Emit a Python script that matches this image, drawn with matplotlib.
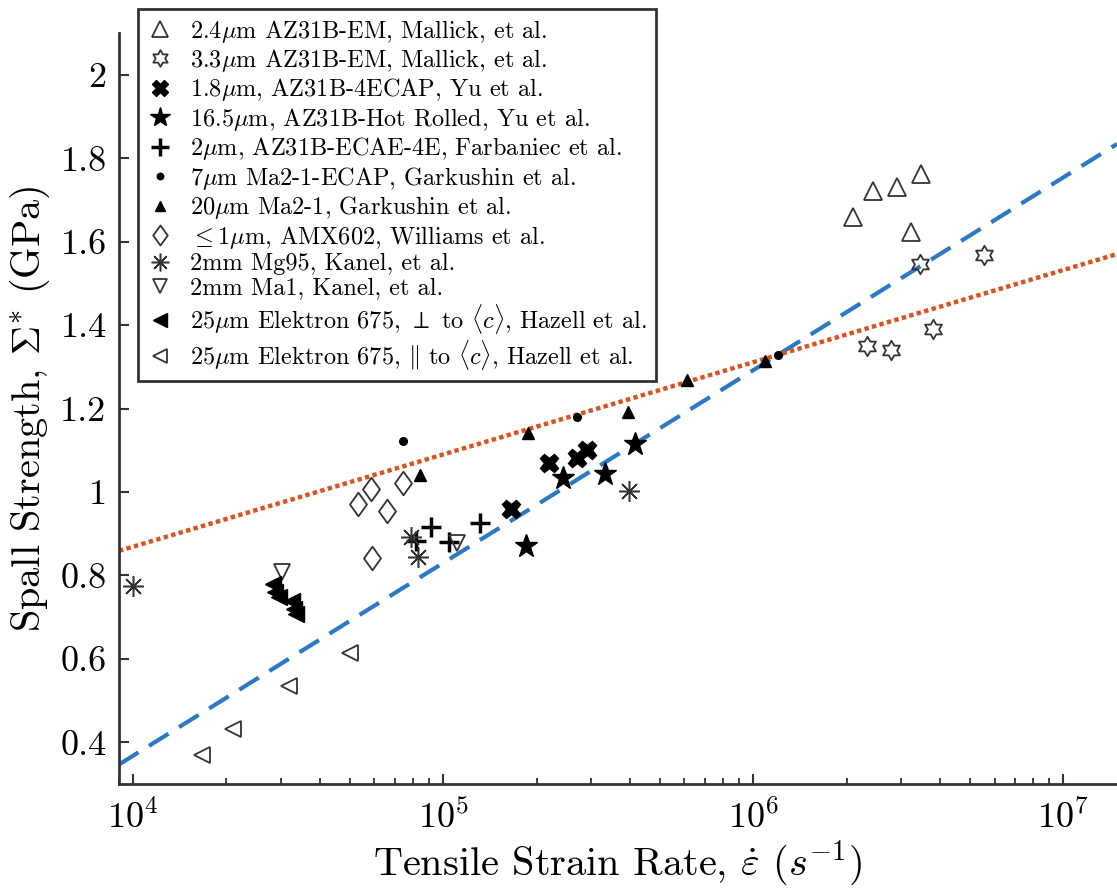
import matplotlib
matplotlib.use('Agg')
import matplotlib.pyplot as plt
import numpy as np
from matplotlib.path import Path
from matplotlib.ticker import FuncFormatter, LogLocator, NullFormatter

plt.rcParams.update({
    'font.family': 'serif',
    'font.serif': ['cmr10'],
    'mathtext.fontset': 'cm',
    'axes.formatter.use_mathtext': True,
    'axes.unicode_minus': False,
})

# ---- data (strain rate 1/s, spall strength GPa) ----
mallick24_x = [2.1e6, 2.44e6, 2.9e6, 3.47e6, 3.23e6]
mallick24_y = [1.660, 1.721, 1.731, 1.761, 1.622]
mallick33_x = [3.46e6, 5.56e6, 3.8e6, 2.33e6, 2.79e6]
mallick33_y = [1.547, 1.569, 1.391, 1.350, 1.341]
yu_ecap_x = [2.2e5, 2.7e5, 2.92e5, 1.66e5]
yu_ecap_y = [1.070, 1.082, 1.101, 0.959]
yu_hr_x = [2.44e5, 3.33e5, 1.85e5, 4.16e5]
yu_hr_y = [1.034, 1.043, 0.870, 1.115]
farb_x = [9.1e4, 1.31e5, 8.2e4, 1.045e5]
farb_y = [0.916, 0.926, 0.882, 0.880]
gark_ecap_x = [7.4e4, 2.7e5, 1.2e6]
gark_ecap_y = [1.122, 1.180, 1.329]
gark_x = [8.4e4, 1.88e5, 3.95e5, 6.1e5, 1.09e6]
gark_y = [1.041, 1.142, 1.192, 1.269, 1.313]
will_x = [5.3e4, 5.86e4, 6.6e4, 7.4e4, 5.9e4]
will_y = [0.971, 1.007, 0.955, 1.022, 0.842]
kanel_mg_x = [1.0e4, 7.9e4, 8.3e4, 3.98e5]
kanel_mg_y = [0.775, 0.892, 0.844, 1.002]
kanel_ma_x = [3.02e4, 1.11e5]
kanel_ma_y = [0.808, 0.878]
haz_perp_x = [2.83e4, 2.87e4, 2.96e4, 3.26e4, 3.31e4, 3.36e4]
haz_perp_y = [0.779, 0.760, 0.748, 0.738, 0.719, 0.707]
haz_par_x = [5.0e4, 3.18e4, 2.1e4, 1.67e4]
haz_par_y = [0.615, 0.534, 0.431, 0.369]

# fit lines: strength = a + b*log10(rate)
fit_blue = (-1.480, 0.462)
fit_orange = (-0.015, 0.221)

BLUE = '#2b78c5'
ORANGE = '#d9531e'
GREY = '#333333'

hexagram = Path.unit_regular_star(6, 0.577)
diamond = Path([(0, 1), (0.72, 0), (0, -1), (-0.72, 0), (0, 1)],
               [Path.MOVETO, Path.LINETO, Path.LINETO, Path.LINETO, Path.CLOSEPOLY])

fig = plt.figure(figsize=(11.17, 8.93), dpi=100)
ax = fig.add_axes([0.1065, 0.122, 0.8935, 0.841])
ax.set_xscale('log')
xlim = (9.0e3, 1.49e7)

xs = np.logspace(np.log10(xlim[0]), np.log10(xlim[1]), 50)
ax.plot(xs, fit_blue[0] + fit_blue[1] * np.log10(xs), color=BLUE, lw=3,
        ls=(0, (5.5, 3.0)), zorder=1)
ax.plot(xs, fit_orange[0] + fit_orange[1] * np.log10(xs), color=ORANGE, lw=3.2,
        ls=(0, (1.0, 0.75)), zorder=1)

open_kw = dict(ls='none', mfc='none', mec=GREY, mew=1.3)
ax.plot(mallick24_x, mallick24_y, marker='^', ms=13, label=r'2.4$\mu$m AZ31B-EM, Mallick, et al.', **open_kw)
ax.plot(mallick33_x, mallick33_y, marker=hexagram, ms=14, label=r'3.3$\mu$m AZ31B-EM, Mallick, et al.', **open_kw)
ax.plot(yu_ecap_x, yu_ecap_y, ls='none', marker='X', ms=13, color='black', mec='black',
        label=r'1.8$\mu$m, AZ31B-4ECAP, Yu et al.')
ax.plot(yu_hr_x, yu_hr_y, ls='none', marker='*', ms=17, color='black', mec='black',
        label=r'16.5$\mu$m, AZ31B-Hot Rolled, Yu et al.')
ax.plot(farb_x, farb_y, ls='none', marker='+', ms=15, mew=2.5, color='black',
        label=r'2$\mu$m, AZ31B-ECAE-4E, Farbaniec et al.')
ax.plot(gark_ecap_x, gark_ecap_y, ls='none', marker='o', ms=5.5, color='black',
        label=r'7$\mu$m Ma2-1-ECAP, Garkushin et al.')
ax.plot(gark_x, gark_y, ls='none', marker='^', ms=8.5, color='black',
        label=r'20$\mu$m Ma2-1, Garkushin et al.')
ax.plot(will_x, will_y, marker=diamond, ms=17, label=r'$\leq$1$\mu$m, AMX602, Williams et al.', **open_kw)
ax.plot(kanel_mg_x, kanel_mg_y, ls='none', marker=(8, 2, 0), ms=15, mew=1.1, color=GREY,
        label=r'2mm Mg95, Kanel, et al.')
ax.plot(kanel_ma_x, kanel_ma_y, marker='v', ms=12, label=r'2mm Ma1, Kanel, et al.', **open_kw)
ax.plot(haz_perp_x, haz_perp_y, ls='none', marker='<', ms=12, color='black',
        label=r'25$\mu$m Elektron 675, $\perp$ to $\langle c\rangle$, Hazell et al.')
ax.plot(haz_par_x, haz_par_y, marker='<', ms=12,
        label=r'25$\mu$m Elektron 675, $\|$ to $\langle c\rangle$, Hazell et al.', **open_kw)

ax.set_xlim(*xlim)
ax.set_ylim(0.3, 2.1)
ax.set_yticks([0.4, 0.6, 0.8, 1.0, 1.2, 1.4, 1.6, 1.8, 2.0])
ax.yaxis.set_major_formatter(FuncFormatter(lambda v, _: f'{v:g}'))
ax.xaxis.set_major_locator(LogLocator(base=10, numticks=10))
ax.xaxis.set_minor_locator(LogLocator(base=10, subs=np.arange(2, 10), numticks=20))
ax.xaxis.set_minor_formatter(NullFormatter())

for side in ('top', 'right'):
    ax.spines[side].set_visible(False)
for side in ('left', 'bottom'):
    ax.spines[side].set_color(GREY)
    ax.spines[side].set_linewidth(2)
ax.tick_params(which='major', direction='in', length=7, width=1.5, color=GREY,
               labelsize=26, pad=9)
ax.tick_params(which='minor', direction='in', length=4, width=1.3, color=GREY)
ax.tick_params(axis='x', which='major', pad=11)

ax.set_xlabel(r'Tensile Strain Rate, $\dot{\varepsilon}$ $(s^{-1})$', fontsize=29, labelpad=2)
ax.set_ylabel(r'Spall Strength, $\Sigma^{*}$ (GPa)', fontsize=29, labelpad=6)

leg = ax.legend(loc='upper left', bbox_to_anchor=(138 / 1117, 1 - 9 / 893),
                bbox_transform=fig.transFigure, fontsize=17.5, frameon=True,
                fancybox=False, framealpha=1, edgecolor=GREY, handlelength=1.1,
                handletextpad=0.7, labelspacing=0.1, borderpad=0.35, borderaxespad=0,
                markerscale=0.85)
leg.get_frame().set_linewidth(2)

fig.savefig('out.png', dpi=100)
